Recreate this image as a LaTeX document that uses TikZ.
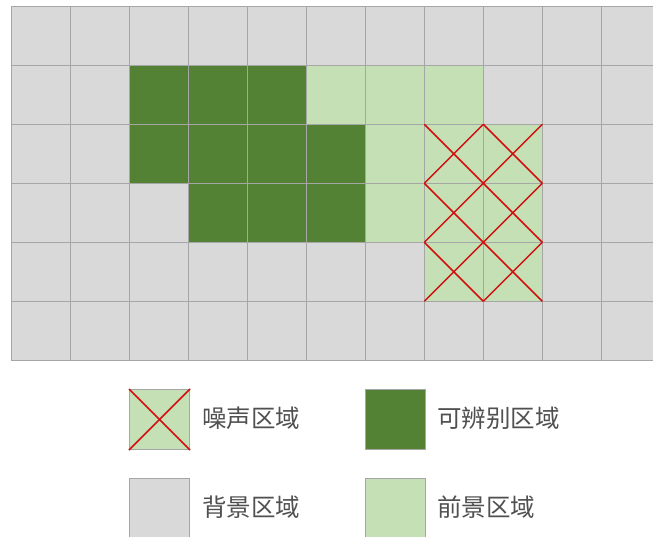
\documentclass[tikz,border=0pt]{standalone}
\usepackage{fontspec}
\newfontfamily\cjk{Noto Sans CJK SC}
\definecolor{bgcell}{HTML}{D9D9D9}
\definecolor{gridln}{HTML}{A6A6A6}
\definecolor{darkg}{HTML}{548235}
\definecolor{lightg}{HTML}{C5E0B4}
\definecolor{crossred}{HTML}{D01010}
\definecolor{txt}{HTML}{505050}
\tikzset{
  cellline/.style={draw=gridln, line width=1.3pt},
  crossline/.style={draw=crossred, line width=1.5pt},
  legbox/.style={draw=gridln, line width=1pt, minimum width=60pt, minimum height=60pt, inner sep=0pt},
  legtext/.style={text=txt, font=\cjk\fontsize{24.5}{27}\selectfont, anchor=west, inner sep=0pt}
}
\begin{document}
\begin{tikzpicture}[x=1pt,y=-1pt]
\useasboundingbox (0,0) rectangle (653,537);
\fill[white] (0,0) rectangle (653,537);
\begin{scope}
\clip (0,0) rectangle (653,537);
% background grid area
\fill[bgcell] (11.3,6.3) rectangle (660,360.3);
% dark green cells
\foreach \c/\r in {2/1,3/1,4/1,2/2,3/2,4/2,5/2,3/3,4/3,5/3}
  \fill[darkg] (11.3+59*\c,6.3+59*\r) rectangle ++(59,59);
% light green cells
\foreach \c/\r in {5/1,6/1,7/1,6/2,6/3,7/2,8/2,7/3,8/3,7/4,8/4}
  \fill[lightg] (11.3+59*\c,6.3+59*\r) rectangle ++(59,59);
% grid lines
\foreach \i in {0,...,11}
  \draw[cellline] (11.3+59*\i,6.3) -- (11.3+59*\i,360.3);
\foreach \j in {0,...,6}
  \draw[cellline] (11.3,6.3+59*\j) -- (660,6.3+59*\j);
% noise crosses
\foreach \c/\r in {7/2,8/2,7/3,8/3,7/4,8/4}{
  \draw[crossline] (11.3+59*\c,6.3+59*\r) -- ++(59,59);
  \draw[crossline] (11.3+59*\c+59,6.3+59*\r) -- ++(-59,59);
}
\end{scope}
% legend
\node[legbox, fill=lightg, anchor=north west] (noise) at (129,389) {};
\draw[crossline] (noise.north west) -- (noise.south east);
\draw[crossline] (noise.north east) -- (noise.south west);
\node[legtext] (noiset) at (202,418) {噪声区域};
\node[legbox, fill=darkg, anchor=north west] (disc) at (365,389) {};
\node[legtext] (disct) at (437,418) {可辨别区域};
\node[legbox, fill=bgcell, anchor=north west] (bg) at (129,478) {};
\node[legtext] (bgt) at (202,507) {背景区域};
\node[legbox, fill=lightg, anchor=north west] (fg) at (365,478) {};
\node[legtext] (fgt) at (437,507) {前景区域};
\end{tikzpicture}
\end{document}
